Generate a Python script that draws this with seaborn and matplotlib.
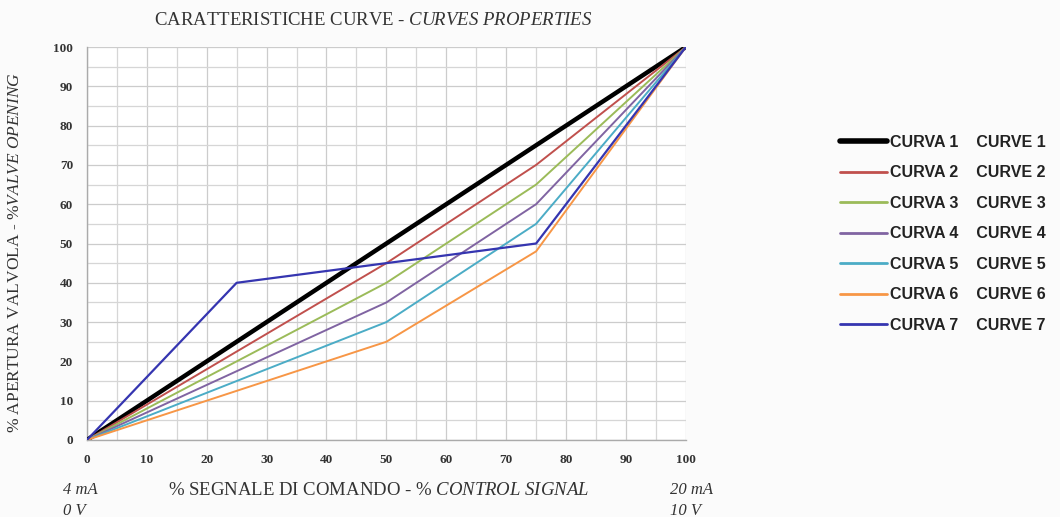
import matplotlib
matplotlib.use("Agg")
import matplotlib.pyplot as plt
import seaborn as sns
import numpy as np

# ---- data ----
signal = [0, 25, 50, 75, 100]
curve_1 = [0, 25, 50, 75, 100]
curve_2 = [0, 22.5, 45, 70, 100]
curve_3 = [0, 20, 40, 65, 100]
curve_4 = [0, 17.5, 35, 60, 100]
curve_5 = [0, 15, 30, 55, 100]
curve_6 = [0, 12.5, 25, 48, 100]
curve_7 = [0, 40, 45, 50, 100]
curves = [curve_1, curve_2, curve_3, curve_4, curve_5, curve_6, curve_7]
labels = [f"CURVA {i}    CURVE {i}" for i in range(1, 8)]
colors = ["#000000", "#c0504d", "#9bbb59", "#8064a2", "#4bacc6", "#f79646", "#3535b0"]
widths = [3.2, 1.4, 1.4, 1.4, 1.4, 1.4, 1.6]
ticks = list(range(0, 101, 10))

sns.set_theme(style="white")
plt.rcParams["mathtext.fontset"] = "custom"
plt.rcParams["mathtext.rm"] = "Liberation Serif"
plt.rcParams["mathtext.it"] = "Liberation Serif:italic"

fig = plt.figure(figsize=(10.6, 5.17), dpi=100, facecolor="#fbfbfb")
ax = fig.add_axes([0.082, 0.149, 0.565, 0.760])
ax.set_facecolor("white")

for y, lab, c, w in zip(curves, labels, colors, widths):
    sns.lineplot(x=signal, y=y, color=c, lw=w, ax=ax, label=lab, zorder=3)

ax.set_xlim(0, 100)
ax.set_ylim(0, 100)
ax.set_xticks(ticks)
ax.set_yticks(ticks)
ax.set_xticks(np.arange(5, 100, 10), minor=True)
ax.set_yticks(np.arange(5, 100, 10), minor=True)
ax.grid(True, which="major", color="#cccccc", lw=0.9)
ax.grid(True, which="minor", color="#d6d6d6", lw=0.9)
ax.tick_params(axis="both", which="major", direction="out", length=4, color="#aaaaaa",
               labelsize=9.5, labelcolor="#333333", pad=6)
ax.tick_params(which="minor", length=0)
for lab in ax.get_xticklabels() + ax.get_yticklabels():
    lab.set_fontfamily("Liberation Serif")
    lab.set_fontweight("bold")
for s in ["top", "right"]:
    ax.spines[s].set_visible(False)
for s in ["left", "bottom"]:
    ax.spines[s].set_color("#aaaaaa")
    ax.spines[s].set_linewidth(1.0)

ax.set_xlabel("")
ax.set_ylabel("")

fig.text(0.352, 0.961, r"CARATTERISTICHE CURVE - $\it{CURVES\ PROPERTIES}$",
         ha="center", va="center", fontsize=13.5, family="Liberation Serif", color="#333333")
fig.text(0.014, 0.512, r"% APERTURA VALVOLA - $\it{\%VALVE\ OPENING}$",
         ha="center", va="center", rotation=90, fontsize=12.5, family="Liberation Serif",
         color="#333333")
fig.text(0.357, 0.052, r"% SEGNALE DI COMANDO - $\it{\%\ CONTROL\ SIGNAL}$",
         ha="center", va="center", fontsize=13.5, family="Liberation Serif", color="#333333")
for txt, x, y in [("4 mA", 0.059, 0.052), ("0 V", 0.059, 0.012),
                  ("20 mA", 0.632, 0.052), ("10 V", 0.632, 0.012)]:
    fig.text(x, y, txt, ha="left", va="center", fontsize=12, style="italic",
             family="Liberation Serif", color="#333333")

leg = ax.legend(loc="center left", bbox_to_anchor=(0.785, 0.548), bbox_transform=fig.transFigure,
                frameon=False, handlelength=2.95, handletextpad=0.2, borderpad=0,
                labelspacing=0.97, prop={"family": "Liberation Sans", "weight": "bold", "size": 11.5})
for t in leg.get_texts():
    t.set_color("#222222")
for h, w in zip(leg.get_lines(), widths):
    h.set_linewidth(4.0 if w > 2 else 2.0)

fig.savefig("out.png", dpi=100, facecolor=fig.get_facecolor())
